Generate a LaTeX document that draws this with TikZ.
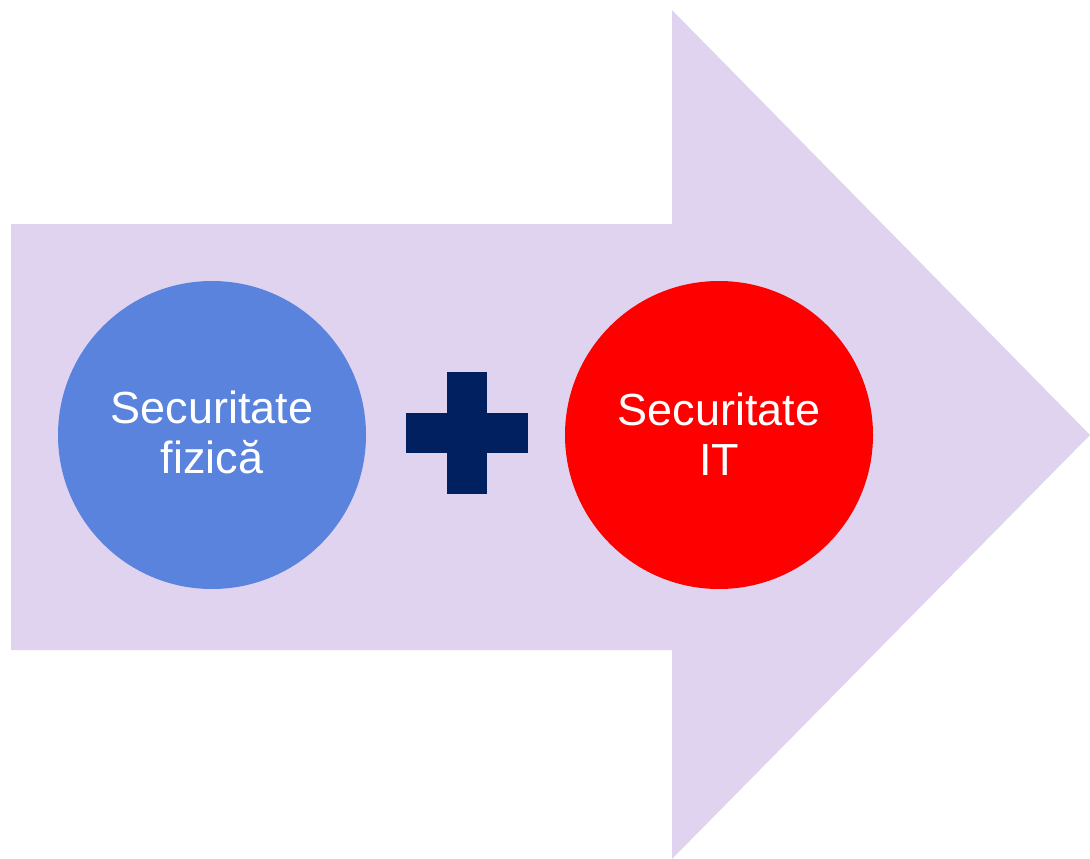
\documentclass[tikz,border=0pt]{standalone}
\usepackage{fontspec}
\setmainfont{Liberation Sans}
\usepackage{tikz}

\definecolor{arrowlilac}{RGB}{223,211,240}
\definecolor{physblue}{RGB}{89,131,221}
\definecolor{itred}{RGB}{255,0,0}
\definecolor{plusnavy}{RGB}{0,32,96}

\begin{document}
\begin{tikzpicture}[x=1pt, y=-1pt, every node/.style={circle, minimum size=308pt, inner sep=0pt, text=white, align=center, font=\fontsize{45}{50}\selectfont}]
  \useasboundingbox (0,0) rectangle (1090,859);
  \fill[arrowlilac] (11,224) -- (672,224) -- (672,10) -- (1090,435) -- (672,859) -- (672,650) -- (11,650) -- cycle;
  \node (fizic) [fill=physblue] at (212,435) {};
  \node (it) [fill=itred] at (719,435) {};
  \node (fiziclabel) [fill=none, minimum size=0pt] at (212,432) {Securitate\\fizică};
  \node (itlabel) [fill=none, minimum size=0pt] at (719,434) {Securitate\\IT};
  \fill[plusnavy] (406,413) rectangle (528,453);
  \fill[plusnavy] (447,372) rectangle (487,494);
\end{tikzpicture}
\end{document}
